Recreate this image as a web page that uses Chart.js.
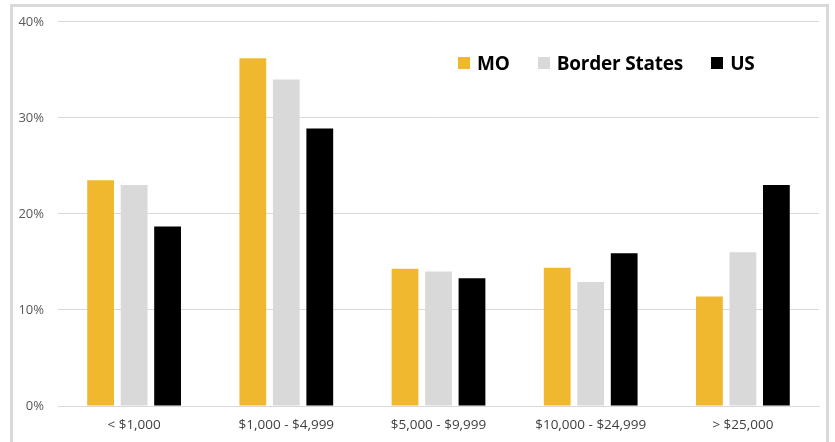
<!DOCTYPE html>
<html>
<head>
<meta charset="utf-8">
<script src="https://cdn.jsdelivr.net/npm/chart.js@4.4.1/dist/chart.umd.min.js"></script>
<style>
  html, body { margin: 0; padding: 0; background: #fff; }
  #wrap { position: relative; width: 835px; height: 442px; overflow: hidden; }
  #frame { position: absolute; left: 10px; top: 4px; width: 819px; height: 460px; border: 3px solid #d9d9d9; box-sizing: border-box; }
  #chart { position: absolute; left: 0; top: 0; }
  #legend { position: absolute; left: 458px; top: 50px; display: flex; align-items: center;
            font-family: 'Open Sans', sans-serif; font-weight: bold; font-size: 19px; letter-spacing: -0.2px; color: #000; }
  .legend-item { display: flex; align-items: center; margin-right: 28px; }
  .legend-dot { display: inline-block; width: 12px; height: 12px; margin-right: 7px; }
</style>
</head>
<body>
<div id="wrap">
  <div id="frame"></div>
  <canvas id="chart" width="835" height="442"></canvas>
  <div id="legend"></div>
</div>
<script>
// ── DATA ──
var categories = ['< $1,000', '$1,000 - $4,999', '$5,000 - $9,999', '$10,000 - $24,999', '> $25,000'];
var moVals     = [23.5, 36.2, 14.3, 14.4, 11.4];
var borderVals = [23.0, 34.0, 14.0, 12.9, 16.0];
var usVals     = [18.7, 28.9, 13.3, 15.9, 23.0];
var yTicks     = [0, 10, 20, 30, 40];

var series = [
  { label: 'MO',            data: moVals,     color: '#F0B82E' },
  { label: 'Border States', data: borderVals, color: '#D9D9D9' },
  { label: 'US',            data: usVals,     color: '#000000' }
];

var el = document.getElementById('chart');
new Chart(el.getContext('2d'), {
  type: 'bar',
  data: {
    labels: categories,
    datasets: series.map(function(s) {
      return { label: s.label, data: s.data, backgroundColor: s.color, borderWidth: 0,
               barPercentage: 0.8, categoryPercentage: 0.66 };
    })
  },
  options: {
    responsive: false, animation: false,
    layout: { padding: { top: 18, right: 16, left: 0, bottom: 0 } },
    plugins: { legend: { display: false }, tooltip: { enabled: false } },
    scales: {
      x: {
        grid: { display: false, drawTicks: false },
        border: { color: '#d9d9d9', width: 1 },
        ticks: { padding: 11, color: '#404040', font: { family: 'Open Sans', size: 13.5 } },
        afterFit: function(s) { s.height = 36; }
      },
      y: {
        min: 0, max: 40,
        afterBuildTicks: function(s) { s.ticks = yTicks.map(function(v){ return { value: v }; }); },
        grid: { color: '#d9d9d9', drawTicks: false },
        border: { display: false },
        ticks: { padding: 14, color: '#595959', font: { family: 'Open Sans', size: 13 },
                 callback: function(v) { return v + '%'; } },
        afterFit: function(s) { s.width = 58; }
      }
    }
  }
});

// legend inside the plot, top right
document.getElementById('legend').innerHTML = series.map(function(s) {
  return '<span class="legend-item"><span class="legend-dot" style="background:' + s.color + '"></span>' + s.label + '</span>';
}).join('');
</script>
</body>
</html>
